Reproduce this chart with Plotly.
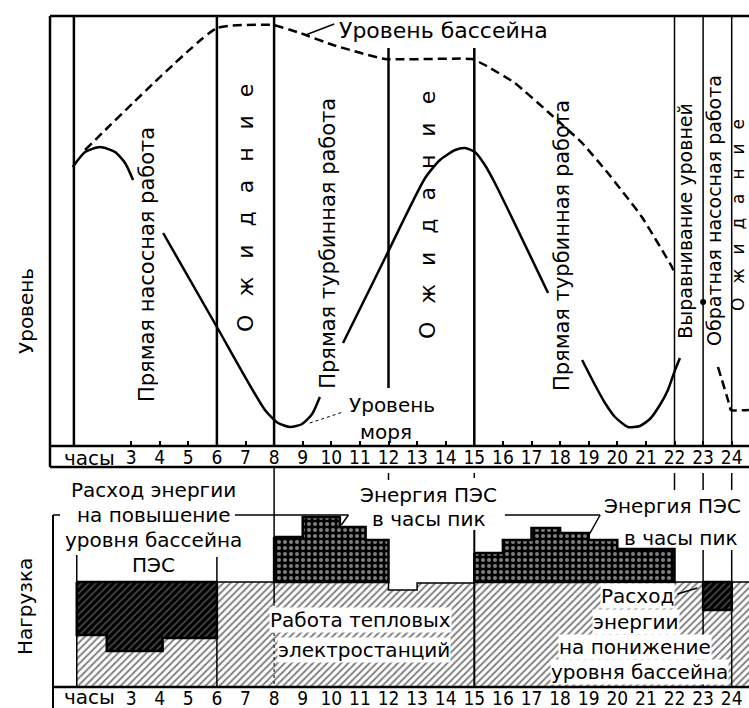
import plotly.graph_objects as go

W, H = 749, 708

# ---------------- data ----------------
hour_ticks = list(range(3, 25))
hour_labels = [str(h) for h in hour_ticks]

# phase boundary lines in the level panel (hour, top level, bottom level, width)
event_hours = [1, 6, 8, 12, 15, 22, 23, 24]
event_top = [430, 430, 430, 398, 398, 430, 430, 430]
event_bottom = [0, 0, 0, 58, 0, 0, 0, 0]
event_width = [2.5, 2.5, 2.5, 2.5, 2.5, 1.5, 1.5, 1.5]

# sea level (solid), gaps where text interrupts the curve
sea_hours = [0.96, 1.39, 1.91, 2.44, 2.79, 3.07, None,
             4.12, 6.0, 7.68, 8.14, 8.56, 8.98, 9.33, 9.6, None,
             10.41, 11.88, 13.28, 13.8, 14.33, 14.68, 15.02, 15.37, 15.72, 17.58, None,
             18.77, 19.22, 19.57, 19.92, 20.37, 20.79, 21.14, 21.49, 21.77, 22.02, 22.19]
sea_level = [279, 294, 299, 294, 283, 266, None,
             213, 119, 36, 23, 19, 22, 32, 49, None,
             103, 188, 268, 286, 296, 298, 294, 281, 263, 153, None,
             86, 61, 43, 29, 19, 20, 27, 41, 56, 76, 88]

# basin level (dashed)
basin_hours = [1.39, 6.0, 7.96, 8.91, 10.06, 11.88, 14.92, 15.37, 16.42, 17.58,
               18.77, 19.67, 20.86, 21.91, 22.0, None, 23.52, 23.87, 23.97, 24.6]
basin_level = [296, 418, 421, 413, 401, 387, 387, 381, 363, 334,
               303, 273, 229, 179, 173, None, 79, 46, 36, 36]
equal_hour = [23.0]
equal_level = [144]

# load panel
thermal_edges = [1.1, 2.15, 4.1, 6, 12, 13, 15, 23, 24, 24.7]
thermal_load = [52, 36, 49, 105, 97, 104, 105, 77, 105]
charge1_edges = [1.1, 2.15, 4.1, 6]
charge1_base = [52, 36, 49]
charge1_top = [105, 105, 105]
charge2_edges = [23, 24]
charge2_base = [77]
charge2_top = [105]
peak1_edges = [8, 9, 10.3, 11.2, 12]
peak1_top = [150, 170, 160, 147]
peak2_edges = [15, 16, 17, 18, 19, 20, 22]
peak2_top = [134, 147, 159, 154, 147, 138]
peak_base = 105


def step_poly(edges, tops, bases):
    xs, ys = [], []
    for i, t in enumerate(tops):
        xs += [edges[i], edges[i + 1]]
        ys += [t, t]
    for i in range(len(bases) - 1, -1, -1):
        xs += [edges[i + 1], edges[i]]
        ys += [bases[i], bases[i]]
    xs.append(xs[0])
    ys.append(ys[0])
    return xs, ys


def px_x(p):
    return p / W


def px_y(p):
    return 1 - p / H


FONT = "DejaVu Sans"
NARROW = "Liberation Sans Narrow, DejaVu Sans Condensed, Liberation Sans, sans-serif"

fig = go.Figure()

# ---- load panel blocks ----
tx, ty = step_poly(thermal_edges, thermal_load, [0] * len(thermal_load))
fig.add_trace(go.Scatter(x=tx, y=ty, xaxis="x2", yaxis="y2", mode="lines", fill="toself",
                         fillcolor="white",
                         fillpattern=dict(shape="/", bgcolor="white", fgcolor="black", size=5, solidity=0.38),
                         line=dict(color="black", width=1.5), hoverinfo="skip"))
for e, b, t in [(charge1_edges, charge1_base, charge1_top), (charge2_edges, charge2_base, charge2_top)]:
    cx, cy = step_poly(e, t, b)
    fig.add_trace(go.Scatter(x=cx, y=cy, xaxis="x2", yaxis="y2", mode="lines", fill="toself",
                             fillcolor="black",
                             fillpattern=dict(shape="/", bgcolor="black", fgcolor="#9c9c9c", size=5, solidity=0.3),
                             line=dict(color="black", width=2.5), hoverinfo="skip"))
for e, t in [(peak1_edges, peak1_top), (peak2_edges, peak2_top)]:
    px_, py_ = step_poly(e, t, [peak_base] * len(t))
    fig.add_trace(go.Scatter(x=px_, y=py_, xaxis="x2", yaxis="y2", mode="lines", fill="toself",
                             fillcolor="black",
                             fillpattern=dict(shape=".", bgcolor="black", fgcolor="white", size=6, solidity=0.35),
                             line=dict(color="black", width=2.5), hoverinfo="skip"))

# ---- level panel curves ----
fig.add_trace(go.Scatter(x=sea_hours, y=sea_level, mode="lines", connectgaps=False,
                         line=dict(color="black", width=2.5, shape="spline", smoothing=0.6),
                         hoverinfo="skip"))
fig.add_trace(go.Scatter(x=basin_hours, y=basin_level, mode="lines", connectgaps=False,
                         line=dict(color="black", width=2.5, dash="9px,5px", shape="spline", smoothing=0.4),
                         hoverinfo="skip"))
fig.add_trace(go.Scatter(x=equal_hour, y=equal_level, mode="markers",
                         marker=dict(color="black", size=6), hoverinfo="skip"))

shapes = []
# frame
frame = [
    (50, 16, 749, 16, 2.5), (50, 16, 50, 467, 2.5), (50, 446, 749, 446, 2.5),
    (50, 467, 749, 467, 2.5), (53, 687, 749, 687, 2.5), (53, 515, 53, 708, 2),
    (53, 515, 60, 515, 1.5),
]
for x0, y0, x1, y1, w in frame:
    shapes.append(dict(type="line", xref="paper", yref="paper", x0=px_x(x0), x1=px_x(x1),
                       y0=px_y(y0), y1=px_y(y1), line=dict(color="black", width=w)))
# phase lines
for h, t, b, w in zip(event_hours, event_top, event_bottom, event_width):
    shapes.append(dict(type="line", xref="x", yref="y", x0=h, x1=h, y0=b, y1=t,
                       line=dict(color="black", width=w)))

# load panel auxiliary lines (hour, from, to, width, dash)
load_lines = [
    (8, 220, 84, 1.5, "solid"), (8, 84, 0, 1, "dot"),
    (12, 214, 207, 1.5, "solid"), (15, 214, 209, 1.5, "solid"), (15, 157, 0, 2, "solid"),
    (22, 214, 197, 1.5, "solid"), (23, 214, 197, 1.5, "solid"), (24, 214, 197, 1.5, "solid"),
    (23, 137, 0, 1.5, "solid"), (24, 137, 0, 1.5, "solid"),
    (6, 130, 0, 1.5, "solid"), (1.1, 132, 105, 1.5, "solid"),
]
for h, a, b, w, d in load_lines:
    shapes.append(dict(type="line", xref="x2", yref="y2", x0=h, x1=h, y0=a, y1=b,
                       line=dict(color="black", width=w, dash=d)))
# leaders
leaders2 = [
    (6.63, 172, 10.6, 172), (10.6, 172, 10.35, 162),
    (16.07, 172, 19.4, 172), (19.4, 172, 18.97, 150),
    (22.1, 93, 22.8, 99),
]
for x0, y0, x1, y1 in leaders2:
    shapes.append(dict(type="line", xref="x2", yref="y2", x0=x0, x1=x1, y0=y0, y1=y1,
                       line=dict(color="black", width=1.5)))
shapes.append(dict(type="line", xref="x", yref="y", x0=9.1, x1=10.1, y0=411, y1=422,
                   line=dict(color="black", width=1.5)))
shapes.append(dict(type="line", xref="x", yref="y", x0=9.25, x1=10.41, y0=23, y1=34,
                   line=dict(color="black", width=1, dash="dot")))

annotations = []
sep = "\u00a0\u2002"
ozh = sep.join("Ожидание")


def ann(text, x, y, size=20, xref="x", yref="y", angle=0, xanchor="center", bg=None):
    d = dict(text=text, x=x, y=y, xref=xref, yref=yref, showarrow=False, textangle=angle,
             xanchor=xanchor, yanchor="middle", font=dict(family=FONT, size=size, color="black"))
    if bg:
        d.update(bgcolor=bg, borderpad=0)
    annotations.append(d)


# rotated labels in the level panel
for text, x, y, s in [
    ("Прямая насосная работа", 3.56, 181, 21),
    (ozh, 6.98, 238, 22),
    ("Прямая турбинная работа", 9.88, 203, 21),
    (ozh, 13.35, 231, 22),
    ("Прямая турбинная работа", 18.07, 200, 21),
    ("Выравнивание уровней", 22.36, 225, 19),
    ("Обратная насосная работа", 23.38, 236, 19),
    (ozh, 24.22, 231, 17),
]:
    ann(text, x, y, s, angle=-90)

ann("Уровень бассейна", 10.2, 416, 22, xanchor="left")
ann("Уровень", 12.12, 41, 20)
ann("моря", 11.91, 14, 20)

for text, x, y, xa, bg in [
    ("Расход энергии", 3.8, 197, "center", None),
    ("на повышение", 3.8, 172, "center", None),
    ("уровня бассейна", 3.8, 147, "center", None),
    ("ПЭС", 3.8, 122, "center", None),
    ("Энергия ПЭС", 13.4, 192, "center", None),
    ("в часы пик", 13.43, 168, "center", None),
    ("Энергия ПЭС", 19.47, 181, "left", None),
    ("в часы пик", 20.17, 149, "left", None),
    ("Работа тепловых", 11.02, 67, "center", "white"),
    ("электростанций", 11.14, 37, "center", "white"),
    ("Расход", 20.69, 91, "center", "white"),
    ("энергии", 20.65, 65, "center", "white"),
    ("на понижение", 20.62, 40, "center", "white"),
    ("уровня бассейна", 20.79, 15, "center", "white"),
]:
    ann(text, x, y, 20, xref="x2", yref="y2", xanchor=xa, bg=bg)

ann("Уровень", 26 / W, 1 - 311 / H, 20, xref="paper", yref="paper", angle=-90)
ann("Нагрузка", 25 / W, 1 - 607 / H, 20, xref="paper", yref="paper", angle=-90)
ann("часы", 1.53, 1 - 458 / H, 20, xref="x", yref="paper")
ann("часы", 1.53, 1 - 697 / H, 20, xref="x", yref="paper")

xr = [-45.3 / 28.6, (W - 45.3) / 28.6]
axis_common = dict(range=xr, showgrid=False, zeroline=False, showline=False,
                   tickvals=hour_ticks, ticktext=hour_labels,
                   tickfont=dict(family=NARROW, size=19, color="black"))
fig.update_layout(
    width=W, height=H, margin=dict(l=0, r=0, t=0, b=0),
    paper_bgcolor="white", plot_bgcolor="white", showlegend=False,
    xaxis=dict(domain=[0, 1], anchor="y", ticks="inside", ticklen=5, tickwidth=2,
               tickcolor="black", ticklabelstandoff=-2, **axis_common),
    xaxis2=dict(domain=[0, 1], anchor="y2", matches="x", ticks="", ticklabelstandoff=-2,
                **axis_common),
    yaxis=dict(domain=[1 - 446 / H, 1 - 16 / H], range=[0, 430], visible=False),
    yaxis2=dict(domain=[1 - 687 / H, 1 - 467 / H], range=[0, 220], visible=False),
    shapes=shapes, annotations=annotations,
)

fig.write_html(
    "out.html",
    config={"displayModeBar": False},
    post_script="document.body.style.margin='0';document.body.style.overflow='hidden';",
)
